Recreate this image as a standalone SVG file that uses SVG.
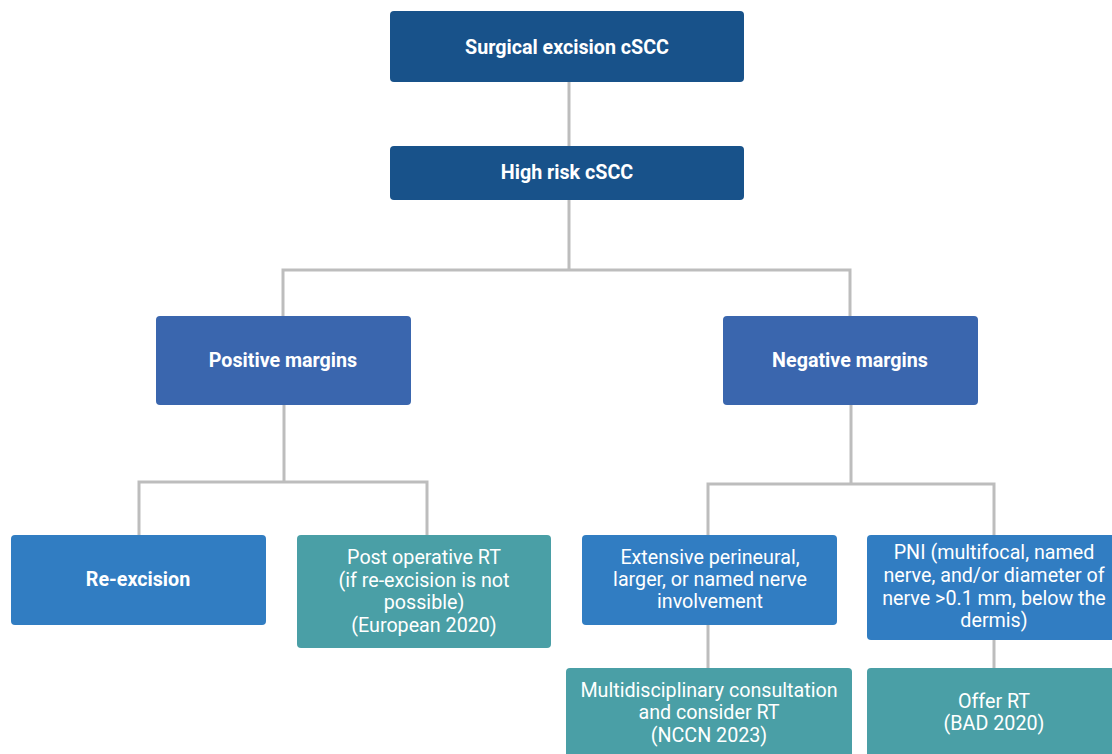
<svg xmlns="http://www.w3.org/2000/svg" width="1112" height="754" viewBox="0 0 1112 754">
<style>
.dark{fill:#18528a}
.mid{fill:#3a66ae}
.blue{fill:#317dc2}
.teal{fill:#4a9fa6}
.b{font-family:Roboto,"Liberation Sans",sans-serif;font-weight:bold;font-size:19.7px;fill:#fff;text-anchor:middle}
.t{font-family:Roboto,"Liberation Sans",sans-serif;font-size:19.7px;fill:#fff;text-anchor:middle}
.c{fill:none;stroke:#bdbdbd;stroke-width:3}
</style>
<rect width="1112" height="754" fill="#fff"/>
<g id="connectors">
<path class="c" d="M569 82V146M569 200V270M283 316V270H850V316"/>
<path class="c" d="M284 405V482M139 535V482H427V535"/>
<path class="c" d="M851 405V484M708 535V484H994V535"/>
<path class="c" d="M708 625V668M994 640V668"/>
</g>
<g id="n1"><rect class="dark" x="390" y="11" width="354" height="71" rx="4"/><text class="b" x="567" y="54">Surgical excision cSCC</text></g>
<g id="n2"><rect class="dark" x="390" y="146" width="354" height="54" rx="4"/><text class="b" x="567" y="179">High risk cSCC</text></g>
<g id="n3"><rect class="mid" x="156" y="316" width="255" height="89" rx="4"/><text class="b" x="283" y="367">Positive margins</text></g>
<g id="n4"><rect class="mid" x="723" y="316" width="255" height="89" rx="4"/><text class="b" x="850" y="367">Negative margins</text></g>
<g id="n5"><rect class="blue" x="11" y="535" width="255" height="90" rx="4"/><text class="b" x="138" y="586">Re-excision</text></g>
<g id="n6"><rect class="teal" x="297" y="535" width="254" height="113" rx="4"/><text class="t" x="424"><tspan x="424" y="564">Post operative RT</tspan><tspan x="424" y="587">(if re-excision is not</tspan><tspan x="424" y="609">possible)</tspan><tspan x="424" y="632">(European 2020)</tspan></text></g>
<g id="n7"><rect class="blue" x="582" y="535" width="255" height="90" rx="4"/><text class="t" x="710"><tspan x="710" y="564">Extensive perineural,</tspan><tspan x="710" y="586">larger, or named nerve</tspan><tspan x="710" y="608">involvement</tspan></text></g>
<g id="n8"><rect class="blue" x="867" y="535" width="255" height="105" rx="4"/><text class="t" x="994"><tspan x="994" y="559">PNI (multifocal, named</tspan><tspan x="994" y="582">nerve, and/or diameter of</tspan><tspan x="994" y="605">nerve &gt;0.1 mm, below the</tspan><tspan x="994" y="627">dermis)</tspan></text></g>
<g id="n9"><rect class="teal" x="566" y="668" width="286" height="100" rx="4"/><text class="t" x="709"><tspan x="709" y="697">Multidisciplinary consultation</tspan><tspan x="709" y="719">and consider RT</tspan><tspan x="709" y="742">(NCCN 2023)</tspan></text></g>
<g id="n10"><rect class="teal" x="867" y="668" width="255" height="100" rx="4"/><text class="t" x="994"><tspan x="994" y="708">Offer RT</tspan><tspan x="994" y="730">(BAD 2020)</tspan></text></g>
</svg>
